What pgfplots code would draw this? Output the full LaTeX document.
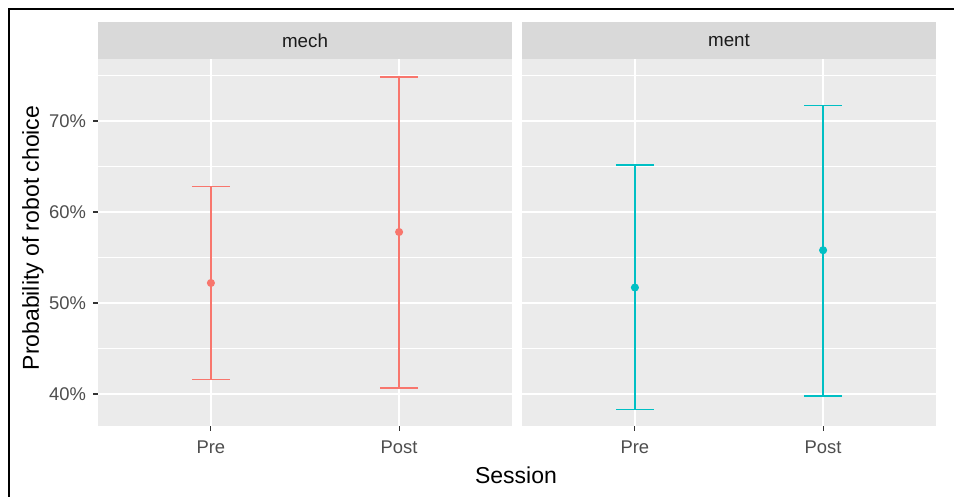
\documentclass[border=0pt]{standalone}
\usepackage{pgfplots}
\pgfplotsset{compat=1.18}
\usepackage{pgfplotstable}
\usepackage{fontspec}
\setmainfont{Liberation Sans}
\definecolor{cmech}{HTML}{F8766D}
\definecolor{cment}{HTML}{00BFC4}
\definecolor{panelbg}{HTML}{EBEBEB}
\definecolor{stripbg}{HTML}{D9D9D9}
\definecolor{ticktext}{HTML}{4D4D4D}
\definecolor{tickcol}{HTML}{333333}
\definecolor{striptext}{HTML}{1A1A1A}

\pgfplotstableread{
x y lo hi
1 52.2 41.6 62.8
2 57.8 40.7 74.8
}\mechdata
\pgfplotstableread{
x y lo hi
1 51.7 38.3 65.2
2 55.8 39.8 71.7
}\mentdata

\pgfplotsset{facet/.style={
  scale only axis, width=207pt, height=183.35pt,
  anchor=south west,
  xmin=0.4, xmax=2.6, ymin=36.52, ymax=76.81,
  axis background/.style={fill=panelbg},
  axis line style={draw=none},
  xtick={1,2}, xticklabels={Pre,Post},
  ytick={40,50,60,70}, minor ytick={45,55,65,75},
  xmajorgrids, ymajorgrids, yminorgrids,
  major grid style={white, line width=1pt},
  minor grid style={white, line width=0.5pt},
  tick align=outside, major tick length=2.5pt, minor tick length=0pt,
  tick style={tickcol, line width=0.55pt},
  xtick pos=left, ytick pos=left,
  ticklabel style={font=\fontsize{9.2}{10}\selectfont, text=ticktext},
  xticklabel style={yshift=-1.5pt},
  clip=false,
}}

\begin{document}
\begin{tikzpicture}
\useasboundingbox (0,0) rectangle (477pt,248.5pt);
\draw[line width=1pt] (4.5pt,-2pt) -- (4.5pt,244pt) -- (480pt,244pt);

\begin{axis}[facet, at={(49pt,35.65pt)},
  yticklabels={40\%,50\%,60\%,70\%}]
  \fill[stripbg] (rel axis cs:0,1) rectangle ([yshift=18.5pt]rel axis cs:1,1);
  \node[font=\fontsize{9.4}{10}\selectfont, text=striptext] at ([yshift=9.25pt]rel axis cs:0.5,1) {mech};
  \addplot[cmech, only marks, mark=*, mark size=1.8pt,
    mark options={solid, fill=cmech, draw=cmech},
    error bars/.cd, y dir=both, y explicit,
    error bar style={line width=0.85pt, draw=cmech},
    error mark options={draw=cmech, line width=0.85pt, mark size=9.5pt, rotate=90}]
    table[x=x, y=y, y error plus expr=\thisrow{hi}-\thisrow{y}, y error minus expr=\thisrow{y}-\thisrow{lo}] {\mechdata};
\end{axis}

\begin{axis}[facet, at={(261pt,35.65pt)},
  yticklabels={}, ytick style={draw=none}]
  \fill[stripbg] (rel axis cs:0,1) rectangle ([yshift=18.5pt]rel axis cs:1,1);
  \node[font=\fontsize{9.4}{10}\selectfont, text=striptext] at ([yshift=9.25pt]rel axis cs:0.5,1) {ment};
  \addplot[cment, only marks, mark=*, mark size=1.8pt,
    mark options={solid, fill=cment, draw=cment},
    error bars/.cd, y dir=both, y explicit,
    error bar style={line width=0.85pt, draw=cment},
    error mark options={draw=cment, line width=0.85pt, mark size=9.5pt, rotate=90}]
    table[x=x, y=y, y error plus expr=\thisrow{hi}-\thisrow{y}, y error minus expr=\thisrow{y}-\thisrow{lo}] {\mentdata};
\end{axis}

\node[rotate=90, font=\fontsize{11.5}{13}\selectfont] at (16.5pt,129.5pt) {Probability of robot choice};
\node[font=\fontsize{11.5}{13}\selectfont] at (258pt,11pt) {Session};
\end{tikzpicture}
\end{document}
